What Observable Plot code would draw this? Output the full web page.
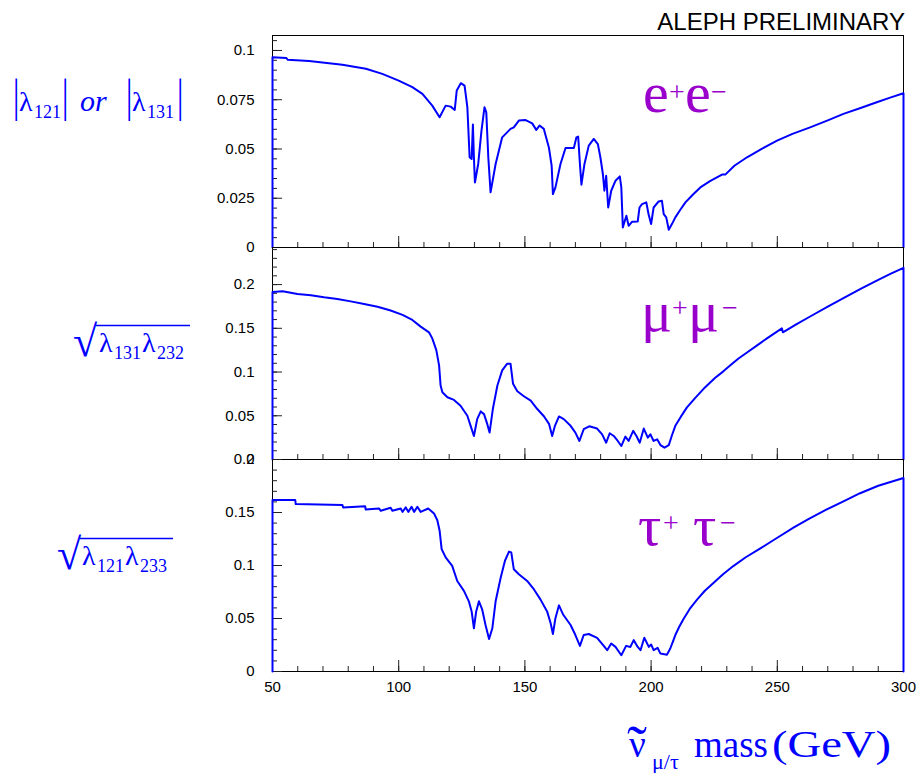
<!DOCTYPE html>
<html><head><meta charset="utf-8">
<script src="https://cdn.jsdelivr.net/npm/d3@7"></script>
<script src="https://cdn.jsdelivr.net/npm/@observablehq/plot@0.6"></script>
<style>
body{margin:0;background:#fff;}
#root{position:relative;width:917px;height:773px;overflow:hidden;background:#fff;}
#overlay{position:absolute;left:0;top:0;pointer-events:none;}
</style>
</head><body>
<div id="root"></div>
<script>
// ---- data ----
const xDomain = [50, 300];
const xMajorTicks = [50, 100, 150, 200, 250, 300];
const xMinorTicks = [50,60,70,80,90,100,110,120,130,140,150,160,170,180,190,200,210,220,230,240,250,260,270,280,290,300];

// panel 1: e+e-
const eeMass = [50,55.5,56,64.5,77.7,87,93.5,100,105.4,109.4,113.3,116.2,118.6,120.6,122.2,123,124.6,126.1,127.2,128.1,128.9,129.4,129.8,130.2,131.5,132.8,134,134.7,135.5,136.4,138.4,141,144.3,145.6,147.6,150.3,152.9,154.5,155.8,157.5,159.5,160.6,161.1,162.1,164.1,166.1,169.4,170.4,171.1,171.8,172.4,173.6,175.3,177.3,178.9,179.9,180.9,181.5,182.2,183,184.2,185.9,187.6,188.2,188.8,190.2,191.1,192.5,194.7,195.4,196.4,198.1,199,200,201,203,204.3,205,206,207,208.3,209.6,211.5,213.6,216.5,219.5,223.5,228.1,229.4,233,238,244,249.9,256,263,270,276.2,283,289.4,295,300];
const eeVal = [0.0966,0.0962,0.0953,0.0946,0.0927,0.0907,0.0881,0.0847,0.0814,0.078,0.072,0.0661,0.072,0.0715,0.0698,0.0797,0.0834,0.0822,0.0712,0.0458,0.0449,0.0624,0.0458,0.033,0.0424,0.0593,0.0712,0.0686,0.0458,0.028,0.0424,0.0559,0.0602,0.061,0.0644,0.0647,0.063,0.0597,0.0619,0.0602,0.0508,0.0415,0.0271,0.0305,0.0424,0.0505,0.0505,0.0559,0.0563,0.0424,0.0319,0.0424,0.0517,0.0551,0.0525,0.0458,0.0373,0.0288,0.0364,0.0203,0.0288,0.0339,0.0361,0.0305,0.0102,0.0161,0.011,0.0131,0.0132,0.0203,0.022,0.0229,0.0169,0.0119,0.0203,0.0234,0.0237,0.0169,0.0153,0.009,0.012,0.0153,0.019,0.0229,0.0268,0.0305,0.0338,0.037,0.037,0.0415,0.0458,0.0502,0.0542,0.0577,0.061,0.0645,0.0678,0.0708,0.0737,0.0762,0.0783];
const eeYTicks = [0, 0.025, 0.05, 0.075, 0.1];
const eeYDomain = [0, 0.1076];

// panel 2: mu+mu-
const mumuMass = [50,54,59.9,65.2,70.4,75.7,81,86.3,91.6,96.8,101.5,105.4,108.7,112,113.3,114.9,116,116.6,117.3,119.3,121.9,124.5,127.2,128.5,129.8,131.1,132.5,133.8,135.1,136,137.3,139.1,141,143,144.3,145.3,147,149.6,152.3,154.9,157.6,159.6,160.8,161.9,163.5,165.4,168.1,170,171.6,173.3,175.5,178.6,180.6,182.2,183.6,185.2,186.8,188.2,189.8,191.1,192.9,194.2,195.5,197.1,198.7,199.7,201,202.4,203.7,205.3,207,208.3,209.6,211.8,214.2,217.5,220.8,223,225.4,228.5,231.4,234.5,238,242,245.9,251.8,252.2,257.5,263,270,276.2,283,289.4,295,300];
const mumuVal = [0.1915,0.1923,0.1892,0.1877,0.1854,0.1835,0.1808,0.1777,0.1746,0.1704,0.1654,0.1596,0.1519,0.1454,0.1385,0.125,0.1077,0.0846,0.0769,0.0712,0.0681,0.0615,0.05,0.0385,0.0269,0.0462,0.055,0.0519,0.0404,0.0308,0.0577,0.0846,0.1019,0.1096,0.1096,0.0865,0.0781,0.0723,0.0673,0.0577,0.0492,0.0404,0.0269,0.0385,0.0492,0.0462,0.0385,0.0308,0.0212,0.0346,0.038,0.0354,0.0288,0.0192,0.03,0.0269,0.0212,0.0154,0.0262,0.0212,0.0327,0.0269,0.0192,0.0354,0.025,0.0288,0.0212,0.0231,0.0165,0.0135,0.0165,0.028,0.0385,0.049,0.0596,0.0705,0.0808,0.087,0.0935,0.1005,0.1077,0.1152,0.1223,0.1305,0.1385,0.15,0.1454,0.1545,0.1635,0.1748,0.1846,0.195,0.2046,0.2125,0.2192];
const mumuYTicks = [0, 0.05, 0.1, 0.15, 0.2];
const mumuYDomain = [0, 0.2424];

// panel 3: tau+tau-
const tautauMass = [50,59,59.2,77.7,78,86.7,86.9,92.2,92.9,96.8,97.5,100.8,101.5,102.8,103.8,105.1,106.1,107.4,108.7,111.7,114,115.3,116.2,117,118.6,121.2,123.2,125.9,127.8,128.9,129.8,130.7,131.8,133.1,134.4,135.8,137.1,138.4,140.4,142.1,143.7,144.6,145.6,147.6,150.9,153.6,156.2,158.8,160.2,161.1,162.1,163.5,165.2,168.1,170,171.8,173.3,175.3,178.6,181,182.6,184.2,185.9,188.2,190.1,191.8,193.1,194.7,195.8,197.3,199.1,200,201,202.6,203.7,206.3,207.6,208.6,209.6,211.2,212.9,215.3,218.2,221.3,224.8,228.5,232.7,237.5,243.3,250,256.4,262.5,269.6,276,282.8,290,300];
const tautauVal = [0.1618,0.1618,0.158,0.157,0.1548,0.156,0.1529,0.1538,0.1516,0.1545,0.1516,0.1538,0.1506,0.1548,0.1506,0.1554,0.1506,0.1554,0.1506,0.1538,0.149,0.1427,0.1331,0.1156,0.1076,0.0997,0.0854,0.0758,0.0662,0.0567,0.0408,0.0567,0.0662,0.0583,0.0439,0.0306,0.0408,0.0662,0.0885,0.1045,0.1131,0.1124,0.0965,0.0917,0.0854,0.0774,0.0678,0.0567,0.0455,0.0354,0.0503,0.0624,0.0535,0.0439,0.0344,0.0242,0.0344,0.0354,0.0318,0.0248,0.0201,0.0264,0.0232,0.0153,0.0242,0.0232,0.0296,0.0232,0.0201,0.0318,0.0232,0.0255,0.0201,0.0223,0.0169,0.0159,0.0217,0.028,0.0344,0.0425,0.0497,0.059,0.0678,0.0762,0.0838,0.0918,0.0997,0.1078,0.1162,0.1262,0.1357,0.144,0.1529,0.1603,0.1682,0.1752,0.1825];
const tautauYTicks = [0, 0.05, 0.1, 0.15, 0.2];
const tautauYDomain = [0, 0.2];

// ---- layout ----
const root = document.getElementById("root");
const W = 917, ML = 272, MR = 14, PH = 212;
const LINE = "#0000ff";

function panel(mass, val, yDomain, yMajor, minorStep, showXLabels, top) {
  const mt = 20, mb = showXLabels ? 40 : 20;
  const rows = mass.map((m, i) => ({m, v: val[i]}));
  // histogram-style closure down to zero at both ends
  const path = [{m: xDomain[0], v: 0}, ...rows, {m: xDomain[1], v: 0}];
  const yMinor = d3.range(0, yDomain[1] + 1e-9, minorStep);
  const svg = Plot.plot({
    width: W, height: PH + mt + mb,
    marginLeft: ML, marginRight: MR, marginTop: mt, marginBottom: mb,
    x: {domain: xDomain},
    y: {domain: yDomain},
    style: {fontFamily: "'Liberation Sans', Arial, sans-serif", fontSize: "15px", overflow: "visible", background: "transparent", color: "#000"},
    marks: [
      Plot.frame({stroke: "#000", strokeWidth: 1}),
      Plot.axisY({ticks: yMinor, tickSize: -5, tickFormat: () => "", label: null, stroke: "#222"}),
      Plot.axisY({ticks: yMajor, tickSize: -10, tickPadding: 28, tickFormat: d => String(d), label: null, stroke: "#222", fill: "#000"}),
      Plot.axisX({ticks: xMinorTicks, tickSize: -5, tickFormat: () => "", label: null, stroke: "#222"}),
      Plot.axisX({ticks: xMajorTicks, tickSize: -11, tickPadding: 21, tickFormat: showXLabels ? (d => String(d)) : (() => ""), label: null, stroke: "#222", fill: "#000"}),
      Plot.line(path, {x: "m", y: "v", stroke: LINE, strokeWidth: 2})
    ]
  });
  svg.style.position = "absolute";
  svg.style.left = "0px";
  svg.style.top = (top - mt) + "px";
  root.appendChild(svg);
}

panel(eeMass, eeVal, eeYDomain, eeYTicks, 0.005, false, 35);
panel(mumuMass, mumuVal, mumuYDomain, mumuYTicks, 0.01, false, 247);
panel(tautauMass, tautauVal, tautauYDomain, tautauYTicks, 0.01, true, 459);

// ---- text overlay ----
const NS = "http://www.w3.org/2000/svg";
const ov = document.createElementNS(NS, "svg");
ov.setAttribute("id", "overlay");
ov.setAttribute("width", W); ov.setAttribute("height", 773);
ov.innerHTML = `
<text x="905" y="30" text-anchor="end" font-family="'Liberation Sans', Arial, sans-serif" font-size="24" fill="#000">ALEPH PRELIMINARY</text>
<g font-family="'Liberation Serif', 'Times New Roman', serif" fill="#0000ff">
  <text font-size="32" transform="translate(13,111) scale(1,1.45)">|</text>
  <text font-size="32" transform="translate(62,111) scale(1,1.45)">|</text>
  <text font-size="32" transform="translate(126,111) scale(1,1.45)">|</text>
  <text font-size="32" transform="translate(177,111) scale(1,1.45)">|</text>
  <text y="111" font-size="28"><tspan x="19">λ</tspan><tspan x="34" y="118" font-size="18">121</tspan><tspan x="80" y="111" font-size="30" font-style="italic">or</tspan><tspan x="132" y="111">λ</tspan><tspan x="147" y="118" font-size="18">131</tspan></text>

  <text x="73" y="356" font-size="44">√</text>
  <line x1="96" x2="190" y1="325.5" y2="325.5" stroke="#0000ff" stroke-width="1.5"/>
  <text y="352" font-size="28"><tspan x="99">λ</tspan><tspan x="114" y="359" font-size="18">131</tspan><tspan x="142" y="352">λ</tspan><tspan x="157" y="359" font-size="18">232</tspan></text>

  <text x="57" y="569" font-size="44">√</text>
  <line x1="80" x2="173" y1="538.5" y2="538.5" stroke="#0000ff" stroke-width="1.5"/>
  <text y="565" font-size="28"><tspan x="82">λ</tspan><tspan x="97" y="572" font-size="18">121</tspan><tspan x="125" y="565">λ</tspan><tspan x="140" y="572" font-size="18">233</tspan></text>

  <text y="757" font-size="37"><tspan x="627" y="766" font-size="60">˜</tspan><tspan x="629" y="757" font-size="37">ν</tspan><tspan x="652" y="769" font-size="22">μ/τ</tspan><tspan x="694" y="757">mass</tspan><tspan x="772" y="757" textLength="119" lengthAdjust="spacingAndGlyphs">(GeV)</tspan></text>
</g>
<g font-family="'Liberation Serif', 'Times New Roman', serif" fill="#9900cc">
  <text y="112" font-size="58"><tspan x="643">e</tspan><tspan x="669" y="101" font-size="28">+</tspan><tspan x="685" y="112">e</tspan><tspan x="711" y="101" font-size="28">−</tspan></text>
  <text y="331" font-size="58"><tspan x="641">μ</tspan><tspan x="672" y="317" font-size="28">+</tspan><tspan x="688" y="331">μ</tspan><tspan x="722" y="317" font-size="28">−</tspan></text>
  <text y="545" font-size="58"><tspan x="638">τ</tspan><tspan x="663" y="532" font-size="28">+</tspan><tspan x="693" y="545">τ</tspan><tspan x="720" y="532" font-size="28">−</tspan></text>
</g>`;
root.appendChild(ov);
</script>
</body></html>
